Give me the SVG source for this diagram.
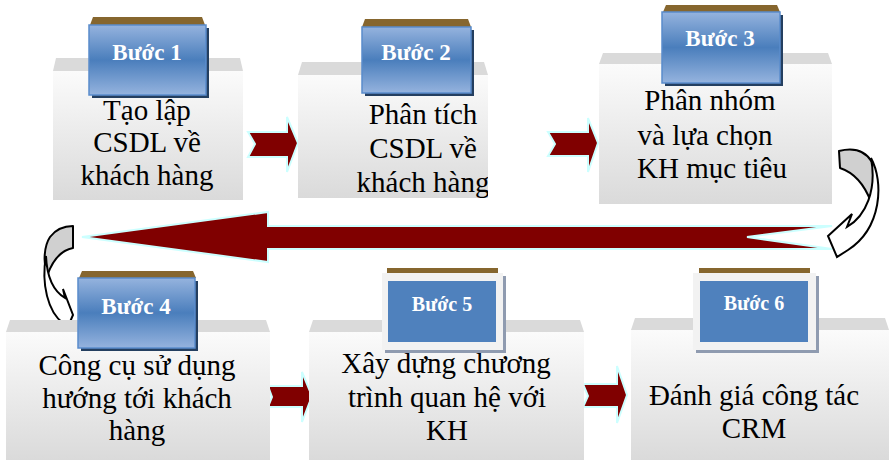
<svg xmlns="http://www.w3.org/2000/svg" width="894" height="460" viewBox="0 0 894 460">
  <defs>
    <linearGradient id="face" x1="0" y1="0" x2="0" y2="1">
      <stop offset="0" stop-color="#fbfbfb"/>
      <stop offset="1" stop-color="#dadada"/>
    </linearGradient>
    <linearGradient id="blue" x1="0" y1="0" x2="0" y2="1">
      <stop offset="0" stop-color="#95b3de"/>
      <stop offset="0.5" stop-color="#4a7ebc"/>
      <stop offset="1" stop-color="#95b3de"/>
    </linearGradient>
    <clipPath id="clip2"><rect x="298" y="62" width="190" height="136"/></clipPath>
  </defs>
  <style>
    .top { fill: #dadada; }
    .face { fill: url(#face); }
    .lid { fill: #86662e; }
    .shade { fill: #243f60; }
    .tag { fill: url(#blue); stroke: #5a8ccc; stroke-width: 1.5; }
    .frame { fill: #f2f2f2; }
    .frameShade { fill: #8f9bb0; }
    .flat { fill: #4f81bd; }
    .tagText { font-family: "Liberation Serif", "Times New Roman", serif; font-weight: bold; fill: #ffffff; text-anchor: middle; }
    .body { font-family: "Liberation Serif", "Times New Roman", serif; font-size: 29px; fill: #000000; text-anchor: middle; }
    .arrow { fill: #800000; stroke: #ccffff; stroke-width: 2; stroke-linejoin: miter; }
    .curveBack { fill: #d0d0d0; stroke: #000; stroke-width: 2; stroke-linejoin: round; }
    .curveFront { fill: #ffffff; stroke: #000; stroke-width: 2; stroke-linejoin: miter; }
  </style>

  <!-- connectors -->
  <g id="connectors">
    <polygon class="arrow" points="248,132 287,132 287,117 298,143 287,172 287,157 248,157 255,144"/>
    <polygon class="arrow" points="548,132 588,132 588,118 598,143 588,172 588,156 548,156 555,144"/>
    <polygon class="arrow" points="832,226 268,226 268,212 82,237 268,262 268,249 832,249 747,237"/>
    <!-- curved turn on the right -->
    <path class="curveBack" d="M839,151 C855,147 866,152 872,162 C877,175 876,190 871,202 C865,186 855,173 840,168 Z"/>
    <path class="curveFront" d="M871,158 C884,182 882,228 848,250 L837,257 L828,236 L852,214 L847,227 C866,216 877,190 871,158 Z"/>
    <!-- curved turn on the left -->
    <path class="curveBack" d="M73,226 L73,248 C62,250 53,259 47,276 C43,262 44,246 50,237 C56,229 64,226 73,226 Z"/>
    <path class="curveFront" d="M46,256 C41,284 48,312 63,323 L63,338 L73,315 L63,289 L65,298 C55,292 47,280 46,256 Z"/>
    <polygon class="arrow" points="268,386 302,386 302,372 312,396 302,422 302,407 268,407 272,397"/>
    <polygon class="arrow" points="583,384 617,384 617,366 627,395 617,423 617,407 583,407 588,396"/>
  </g>

  <!-- step 1 -->
  <g id="step1">
    <polygon class="top" points="56,58 240,58 243,71 53,71"/>
    <rect class="face" x="53" y="71" width="190" height="129"/>
    <polygon class="lid" points="93,17 202,17 205,25 90,25"/>
    <rect class="shade" x="92" y="28" width="117" height="70"/>
    <rect class="tag" x="89" y="25" width="117" height="70"/>
    <text class="tagText" x="147" y="60" font-size="23">Bước 1</text>
    <text class="body" x="147" y="120">Tạo lập</text>
    <text class="body" x="147" y="152">CSDL về</text>
    <text class="body" x="147" y="185">khách hàng</text>
  </g>

  <!-- step 2 -->
  <g id="step2">
    <polygon class="top" points="302,62 484,62 488,75 298,75"/>
    <rect class="face" x="298" y="75" width="190" height="123"/>
    <polygon class="lid" points="365,19 468,19 471,27 362,27"/>
    <rect class="shade" x="365" y="30" width="109" height="66"/>
    <rect class="tag" x="362" y="27" width="109" height="66"/>
    <text class="tagText" x="416" y="60" font-size="23">Bước 2</text>
    <g clip-path="url(#clip2)">
      <text class="body" x="423" y="124">Phân tích</text>
      <text class="body" x="423" y="158">CSDL về</text>
      <text class="body" x="423" y="192">khách hàng</text>
    </g>
  </g>

  <!-- step 3 -->
  <g id="step3">
    <polygon class="top" points="603,53 828,53 832,64 599,64"/>
    <rect class="face" x="599" y="64" width="233" height="140"/>
    <polygon class="lid" points="666,5 777,5 780,12 663,12"/>
    <rect class="shade" x="665" y="15" width="118" height="71"/>
    <rect class="tag" x="662" y="12" width="118" height="71"/>
    <text class="tagText" x="720" y="46" font-size="23">Bước 3</text>
    <text class="body" x="710" y="110">Phân nhóm</text>
    <text class="body" x="705" y="145">và lựa chọn</text>
    <text class="body" x="712" y="178">KH mục tiêu</text>
  </g>

  <!-- step 4 -->
  <g id="step4">
    <polygon class="top" points="10,320 266,320 270,332 6,332"/>
    <rect class="face" x="6" y="332" width="264" height="128"/>
    <polygon class="lid" points="82,271 193,271 196,278 79,278"/>
    <rect class="shade" x="81" y="281" width="117" height="70"/>
    <rect class="tag" x="78" y="278" width="117" height="70"/>
    <text class="tagText" x="136" y="314" font-size="23">Bước 4</text>
    <text class="body" x="137" y="375">Công cụ sử dụng</text>
    <text class="body" x="137" y="408">hướng tới khách</text>
    <text class="body" x="137" y="440">hàng</text>
  </g>

  <!-- step 5 -->
  <g id="step5">
    <polygon class="top" points="313,320 580,320 584,332 309,332"/>
    <rect class="face" x="309" y="332" width="275" height="128"/>
    <rect class="lid" x="387" y="268" width="111" height="6"/>
    <rect class="frameShade" x="385" y="276" width="121" height="77"/>
    <rect class="frame" x="382" y="273" width="121" height="77"/>
    <rect class="flat" x="388" y="281" width="108" height="61"/>
    <text class="tagText" x="442" y="311" font-size="20">Bước 5</text>
    <text class="body" x="446" y="373">Xây dựng chương</text>
    <text class="body" x="447" y="407">trình quan hệ với</text>
    <text class="body" x="447" y="440">KH</text>
  </g>

  <!-- step 6 -->
  <g id="step6">
    <polygon class="top" points="635,318 885,318 889,330 631,330"/>
    <rect class="face" x="631" y="330" width="258" height="130"/>
    <rect class="lid" x="699" y="268" width="111" height="6"/>
    <rect class="frameShade" x="696" y="276" width="123" height="77"/>
    <rect class="frame" x="693" y="273" width="123" height="77"/>
    <rect class="flat" x="700" y="281" width="108" height="61"/>
    <text class="tagText" x="754" y="310" font-size="20">Bước 6</text>
    <text class="body" x="754" y="405">Đánh giá công tác</text>
    <text class="body" x="754" y="438">CRM</text>
  </g>
</svg>
